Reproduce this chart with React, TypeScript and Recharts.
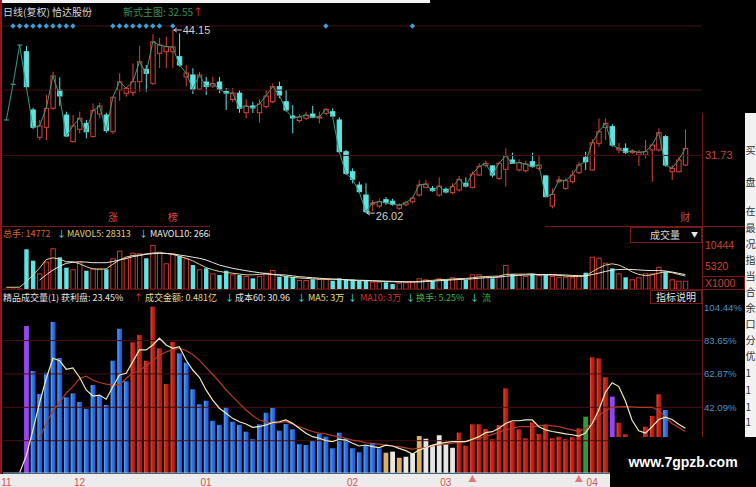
import React from "react";
import {
  ComposedChart,
  Bar,
  Line,
  XAxis,
  YAxis,
  ReferenceLine,
  ReferenceDot,
} from "recharts";

// daily candles, 103 trading days (Nov -> Apr)
const OPEN = [
  35.24, 38.77, 42.66, 42.0, 36.23, 33.53, 34.52, 36.4, 38.21, 35.73,
  33.09, 34.32, 34.91, 33.59, 35.83, 35.73, 34.08, 38.21, 37.88, 37.94,
  39.03, 40.26, 38.87, 41.84, 42.0, 42.0, 41.51, 39.5, 39.7, 38.3,
  39.0, 38.6, 39.0, 38.06, 37.27, 37.9, 35.96, 36.63, 35.96, 36.56,
  37.05, 38.54, 37.05, 35.63, 35.19, 35.41, 35.83, 35.44, 35.9, 36.06,
  35.24, 32.1, 30.12, 28.8, 27.81, 26.92, 26.72, 27.35, 27.2, 26.5,
  26.85, 27.15, 27.81, 28.57, 28.47, 27.81, 28.38, 28.05, 28.31, 28.97,
  28.57, 29.79, 30.75, 30.69, 29.46, 30.36, 31.28, 30.29, 30.22, 31.11,
  30.45, 29.7, 26.72, 29.13, 28.47, 29.13, 30.03, 31.54, 30.29, 32.93,
  34.51, 34.58, 32.27, 32.43, 32.04, 31.77, 31.77, 32.27, 32.27, 33.59,
  30.12, 30.12, 30.78,
];
const HIGH = [
  35.24, 38.77, 42.66, 42.57, 36.43, 35.24, 37.71, 40.02, 39.47, 36.06,
  35.73, 36.06, 35.24, 36.89, 36.95, 35.96, 37.55, 39.86, 38.54, 40.85,
  42.57, 40.68, 43.72, 43.36, 43.5, 44.15, 43.82, 40.68, 40.36, 40.0,
  39.5, 39.5, 39.5, 38.4, 38.4, 38.2, 37.29, 37.05, 37.29, 38.21,
  38.87, 39.03, 38.21, 36.72, 35.83, 36.06, 36.63, 36.06, 36.4, 36.4,
  35.51, 32.27, 30.46, 29.13, 28.97, 27.32, 27.48, 27.6, 27.45, 27.0,
  27.2, 27.65, 29.3, 29.3, 28.7, 29.56, 28.57, 28.97, 29.7, 29.56,
  30.12, 30.95, 31.21, 30.78, 31.11, 32.43, 32.0, 31.35, 31.21, 32.0,
  31.77, 29.79, 28.47, 29.7, 29.46, 30.22, 31.11, 32.1, 33.33, 35.4,
  35.4, 34.84, 32.98, 32.93, 32.34, 32.27, 33.26, 32.93, 34.42, 33.75,
  30.78, 31.61, 34.32,
];
const LOW = [
  35.24, 38.77, 42.66, 38.4, 34.35, 33.26, 33.26, 36.23, 36.63, 33.59,
  33.0, 33.92, 33.43, 33.53, 35.41, 33.98, 33.85, 37.15, 37.55, 37.62,
  38.04, 38.04, 38.7, 40.39, 40.36, 40.39, 40.52, 38.6, 37.8, 38.2,
  37.7, 38.4, 37.9, 36.23, 37.0, 35.96, 35.41, 35.93, 34.97, 36.4,
  36.89, 37.39, 36.06, 33.92, 34.97, 35.24, 35.41, 34.91, 35.73, 35.51,
  31.94, 29.79, 28.97, 27.98, 26.02, 26.2, 26.49, 26.85, 26.75, 26.35,
  26.7, 27.0, 27.65, 28.47, 28.14, 27.65, 27.98, 27.91, 28.14, 28.57,
  28.47, 29.7, 30.55, 29.56, 29.3, 28.64, 30.88, 30.12, 30.03, 30.52,
  30.22, 27.58, 26.49, 28.97, 28.31, 28.97, 29.89, 30.29, 30.22, 32.6,
  33.26, 32.6, 31.94, 31.87, 31.87, 30.69, 31.44, 29.13, 32.1, 30.62,
  29.3, 30.03, 30.69,
];
const CLOSE = [
  35.24, 38.77, 42.66, 38.54, 34.52, 34.65, 36.4, 39.6, 37.62, 33.65,
  34.65, 35.41, 34.08, 36.16, 36.63, 34.18, 37.49, 39.03, 38.38, 39.03,
  41.01, 39.86, 42.99, 42.66, 42.5, 42.47, 40.68, 39.9, 38.3, 39.7,
  38.56, 38.85, 38.3, 37.9, 37.9, 36.4, 36.63, 36.43, 36.82, 37.62,
  38.54, 37.71, 36.23, 35.44, 35.54, 35.73, 35.51, 35.54, 36.3, 35.63,
  32.1, 29.96, 29.37, 28.14, 26.16, 27.02, 27.15, 27.05, 26.9, 26.8,
  27.05, 27.5, 28.8, 28.9, 28.24, 28.7, 28.11, 28.64, 29.37, 28.7,
  29.89, 30.62, 30.95, 29.79, 30.95, 31.68, 30.95, 31.02, 30.88, 30.62,
  30.78, 27.65, 27.88, 29.3, 29.23, 29.79, 30.78, 31.11, 32.98, 34.08,
  34.91, 32.76, 32.43, 32.04, 32.17, 32.04, 32.1, 32.76, 33.99, 30.78,
  30.45, 31.28, 32.43,
];

// volume (x1000) and its averages
const VOLUME = [
  120, 150, 180, 9420, 6730, 3750, 6490, 9660, 7530, 5080,
  4700, 6350, 4370, 4930, 4930, 4700, 7300, 9090, 7300, 8620,
  8480, 7300, 10440, 8850, 6120, 8480, 7840, 7300, 5710, 4700,
  4930, 3750, 3350, 4370, 3520, 3350, 3120, 2570, 3120, 3900,
  4530, 2950, 3120, 2880, 2170, 2170, 2340, 2400, 2400, 2000,
  2570, 2400, 2290, 1940, 2170, 1770, 1770, 1630, 1230, 1530,
  1630, 1770, 2570, 2340, 1940, 2570, 2170, 2810, 2570, 2170,
  3520, 3520, 2950, 2570, 3120, 5710, 3590, 3350, 3120, 3590,
  3350, 3520, 3120, 2950, 2950, 2810, 3120, 3900, 7670, 7440,
  6260, 4930, 3750, 2810, 2340, 2810, 3750, 3750, 5310, 4130,
  2340, 2000, 2000,
];
const MAVOL5 = [
  450, 450, 480, 1770, 3350, 5000, 7000, 7400, 7100, 6500,
  6490, 6000, 5310, 4800, 4700, 4800, 5900, 6900, 7600, 7950,
  8080, 8350, 8550, 8600, 8480, 8200, 7800, 7300, 6700, 5900,
  5100, 4600, 4200, 3950, 3780, 3580, 3400, 3380, 3500, 3590,
  3450, 3300, 2980, 2780, 2650, 2560, 2450, 2380, 2340, 2340,
  2300, 2180, 2050, 2000, 2000, 1950, 1900, 1800, 1750, 1700,
  1680, 1700, 1850, 2000, 2100, 2250, 2300, 2400, 2500, 2550,
  2700, 2900, 3000, 3050, 3100, 3500, 3550, 3550, 3550, 3650,
  3400, 3350, 3350, 3250, 3100, 3000, 2950, 3150, 4100, 5000,
  5700, 6000, 5700, 5000, 4100, 3500, 3200, 3400, 3800, 4100,
  3900, 3500, 3100,
];
const MAVOL10 = [
  null, null, null, null, null, 2170, 3400, 4530, 5400, 6110,
  6350, 6490, 6400, 6260, 6260, 6260, 6550, 6890, 7250, 7670,
  7950, 8240, 8380, 8480, 8420, 8310, 8080, 7840, 7570, 7300,
  6900, 6300, 5710, 5300, 4930, 4650, 4370, 4130, 3900, 3700,
  3520, 3430, 3350, 3150, 2950, 2830, 2720, 2600, 2480, 2410,
  2340, 2250, 2170, 2120, 2080, 2010, 1940, 1900, 1860, 1810,
  1770, 1730, 1700, 1800, 1900, 2000, 2100, 2200, 2300, 2350,
  2450, 2600, 2700, 2750, 2850, 3050, 3200, 3300, 3350, 3400,
  3450, 3450, 3450, 3400, 3350, 3250, 3200, 3150, 3450, 3800,
  4200, 4500, 4650, 4700, 4650, 4550, 4450, 4400, 4400, 4300,
  4050, 3750, 3450,
];

// 精品成交量 indicator (%) with its two averages
const FLOW = [
  null, null, null, 92.7, 64.7, 50.4, 63.6, 95.2, 72.8, 48.3,
  50.8, 45.4, 41.2, 56, 49.1, 43.5, 71.1, 91, 58.3, 82.6,
  87.1, 71.1, 104.7, 78.8, 56.6, 82.9, 75.7, 69.9, 53.3, 44,
  46.2, 33.7, 31.1, 42.1, 33.1, 31.1, 26.9, 22.2, 31.5, 38.7,
  41.8, 27.5, 31.7, 28.4, 19.1, 18.6, 21.1, 25.5, 23.8, 16.6,
  26.3, 22.8, 16.6, 14.1, 18.6, 20, 16.5, 13.8, 14.5, 10.7,
  11.3, 13.4, 24.2, 22.5, 18.6, 24.7, 19, 16.9, 26.3, 18.2,
  31.5, 31.5, 28.6, 22.2, 31.1, 53.9, 33.1, 28.4, 22.8, 32.7,
  25.5, 31.1, 22.8, 23.8, 22.2, 23.4, 29, 36.2, 73.2, 72.6,
  60.8, 48.7, 32.5, 25.3, 20, 21, 30, 36.7, 50.2, 40.4,
  19, 16, 16,
];
// P purple, B blue, R red, Y tan, W white, G green
const FLOW_KIND = [
  "---P",
  "BBBBBBBBBBBBBBB",
  "RRRRRRR",
  "BBBBBBBBBBBBBBBBBBBBBBBBBBBBBBB",
  "YWYWWYWWWWW",
  "RRRRRRRRRRRRRRRRRRR",
  "G",
  "RRR",
  "P",
  "RRRRRRR",
  "B",
  "RRR",
].join("");
const FLOW_MA5 = [
  null, null, 1.4, 12, 28, 45, 60, 72.6, 71.1, 65.8,
  66.6, 60.8, 52.9, 49.1, 49.7, 47.1, 54.9, 62.2, 63.3, 70.5,
  77.8, 77.8, 80.9, 85.1, 80.9, 78.8, 79.8, 71.5, 65.3, 60.8,
  52.9, 46.6, 41.5, 38.4, 35.2, 33.1, 31.7, 29.6, 30, 31.1,
  32.5, 33.1, 34.2, 32.1, 29, 25.9, 23.8, 22.8, 21.3, 20.7,
  22.2, 21.7, 19.7, 18, 18.6, 17.6, 17, 18.5, 18, 16.5,
  15.1, 13, 15.5, 16.8, 18.5, 19.5, 20.3, 20.7, 20.7, 20.7,
  22.2, 23.8, 26.3, 26.9, 29, 32, 33.7, 33.7, 34.2, 34.2,
  30, 28, 27, 26.3, 25.5, 25, 24.2, 26, 32, 40.4,
  51.5, 57.4, 55, 46, 34, 27.5, 26, 30, 34.5, 36,
  34.5, 31.5, 29,
];
const FLOW_MA10 = [
  null, null, null, null, null, 23, 32, 40, 45, 51,
  55, 60, 61.5, 59, 57.5, 56.5, 56, 56, 60, 63.5,
  65, 68, 71, 74.5, 76.5, 78, 78.8, 77.5, 75, 71.5,
  67, 62.5, 58, 53, 48.7, 44.5, 40.4, 37, 34.2, 33,
  32.1, 32.5, 33.1, 31.5, 30, 28.5, 27, 26, 25.5, 24.5,
  23.8, 22.8, 21.7, 21, 20, 19.5, 19.2, 18.5, 18, 17.6,
  16.8, 16, 16.5, 17.2, 18, 18.6, 19.2, 19.7, 20.2, 20.7,
  21.8, 22.8, 23.8, 25.2, 26.6, 28, 29, 30, 30, 30,
  30.5, 31.1, 30.5, 30, 29, 28, 27, 29, 32, 37,
  40, 42, 42.3, 42.5, 42.3, 42.1, 42.1, 42.1, 40, 36,
  32, 29.5, 27,
];

const SIGNAL_DAYS = [1, 2, 3, 4, 5, 6, 7, 8, 9, 10, 16, 17, 18, 19, 20, 21, 22, 23, 25, 48, 61];
const SIGNAL_LEVEL = 44.55;
const EVENT_DAYS = [16, 25, 102];
const EVENT_TEXT = ["涨", "榜", "财"];
const EVENT_LEVEL = 25.6;
const MONTH_DAYS = [0, 11, 30, 52, 66, 88];
const MONTH_LABELS = ["11", "12", "01", "02", "03", "04"];
const TRIANGLE_DAYS = [70, 86];
const PRICE_TICKS = [31.73];
const VOLUME_TICKS = [5320, 10444];
const FLOW_TICKS = [21.3, 42.09, 62.87, 83.65, 104.44];
const SLOTS = 105;

const rows = Array.from({ length: SLOTS }, (_, i) => ({
  i,
  o: OPEN[i] ?? null,
  h: HIGH[i] ?? null,
  l: LOW[i] ?? null,
  c: CLOSE[i] ?? null,
  v: VOLUME[i] ?? null,
  mv5: MAVOL5[i] ?? null,
  mv10: MAVOL10[i] ?? null,
  f: FLOW[i] ?? null,
  k: FLOW_KIND[i] ?? "-",
  f5: FLOW_MA5[i] ?? null,
  f10: FLOW_MA10[i] ?? null,
  sig: SIGNAL_DAYS.includes(i) ? SIGNAL_LEVEL : null,
}));

const CJK = "'Noto Sans CJK SC', 'Noto Sans', sans-serif";
const LAT = "'Liberation Sans', Arial, sans-serif";
const RED = "#d8433b";
const CYAN = "#5fe3e3";
const GRID = "#4a1010";
const FRAME = "#7a1818";
const W = 756;
const AXIS_W = 54;

function Candle(props: any) {
  const { x, y, width, height, payload } = props;
  if (!payload || payload.h == null) return null;
  const top = Math.min(y, y + height);
  const span = Math.abs(height);
  const range = payload.h - payload.l;
  const cx = x + width / 2;
  const bw = 4.4;
  if (range <= 0) {
    return <line x1={cx - 2.5} x2={cx + 2.5} y1={top} y2={top} stroke="#3b9a7c" strokeWidth={1.2} />;
  }
  const py = (v: number) => top + ((payload.h - v) / range) * span;
  const up = payload.c >= payload.o;
  const col = up ? RED : CYAN;
  const yo = py(payload.o);
  const yc = py(payload.c);
  const bt = Math.min(yo, yc);
  const bh = Math.max(Math.abs(yo - yc), 1);
  return (
    <g>
      <line x1={cx} x2={cx} y1={top} y2={bt} stroke={col} strokeWidth={1} />
      <line x1={cx} x2={cx} y1={bt + bh} y2={top + span} stroke={col} strokeWidth={1} />
      <rect
        x={cx - bw / 2}
        y={bt}
        width={bw}
        height={bh}
        fill={up ? "#000" : col}
        stroke={col}
        strokeWidth={1}
      />
    </g>
  );
}

function VolBar(props: any) {
  const { x, y, width, height, payload } = props;
  if (!payload || payload.v == null) return null;
  const cx = x + width / 2;
  const bw = 4.4;
  const up = payload.c >= payload.o;
  const top = Math.min(y, y + height);
  const h = Math.max(Math.abs(height), 0.5);
  return up ? (
    <rect x={cx - bw / 2} y={top + 0.5} width={bw} height={h - 0.5} fill="none" stroke="#c8362f" strokeWidth={1} />
  ) : (
    <rect x={cx - bw / 2} y={top} width={bw} height={h} fill={CYAN} />
  );
}

const KIND_FILL: Record<string, string> = {
  B: "url(#gBlue)",
  R: "url(#gRed)",
  P: "#9646ee",
  Y: "#d9b066",
  W: "#e6e6e6",
  G: "#2e9a3a",
};

function FlowBar(props: any) {
  const { x, y, width, height, payload } = props;
  if (!payload || payload.f == null) return null;
  const cx = x + width / 2;
  const bw = 4.8;
  const top = Math.min(y, y + height);
  return (
    <rect x={cx - bw / 2} y={top} width={bw} height={Math.abs(height)} fill={KIND_FILL[payload.k] || "#888"} />
  );
}

function Diamond(p: any) {
  if (p.value == null || p.cy == null) return <g key={p.index} />;
  const { cx, cy } = p;
  return (
    <polygon
      key={p.index}
      points={`${cx},${cy - 2.7} ${cx + 2.7},${cy} ${cx},${cy + 2.7} ${cx - 2.7},${cy}`}
      fill="#3c9fd8"
    />
  );
}

const rightTick = (color: string, fmt: (v: number) => string, size = 11) => (p: any) => (
  <text x={p.x} y={p.y} dy="0.35em" fill={color} fontSize={size} fontFamily={LAT} textAnchor="start">
    {fmt(p.payload.value)}
  </text>
);

function priceMark(textDy: number) {
  return (p: any) => (
    <g>
      <line x1={p.cx + 1} x2={p.cx + 9} y1={p.cy} y2={p.cy} stroke="#cfcfcf" strokeWidth={1} />
      <polyline
        points={`${p.cx + 4},${p.cy - 2} ${p.cx + 1},${p.cy} ${p.cx + 4},${p.cy + 2}`}
        fill="none"
        stroke="#cfcfcf"
        strokeWidth={1}
      />
      <text x={p.cx + 10} y={p.cy + textDy} dy="0.35em" fill="#cfcfcf" fontSize={11} fontFamily={LAT}>
        {p.label}
      </text>
    </g>
  );
}

function PriceChart() {
  return (
    <ComposedChart
      width={W}
      height={226}
      data={rows}
      margin={{ top: 18, right: 0, bottom: 2, left: 3 }}
      barCategoryGap={0}
    >
      <XAxis dataKey="i" hide />
      <YAxis
        orientation="right"
        width={AXIS_W}
        domain={[24.942, 45.338]}
        ticks={PRICE_TICKS}
        interval={0}
        tickSize={0}
        tickMargin={3}
        axisLine={false}
        tickLine={false}
        tick={rightTick("#c8413a", (v) => v.toFixed(2))}
      />
      <ReferenceLine y={SIGNAL_LEVEL} stroke={GRID} />
      <ReferenceLine y={38.2} stroke={GRID} />
      <ReferenceLine y={31.73} stroke={GRID} />
      <Line dataKey="c" stroke="#3b9a7c" strokeWidth={1} dot={false} isAnimationActive={false} />
      <Bar
        dataKey={(d: any) => (d.h == null ? null : [d.l, d.h])}
        shape={<Candle />}
        isAnimationActive={false}
      />
      <Line dataKey="sig" stroke="none" dot={Diamond} activeDot={false} isAnimationActive={false} />
      <ReferenceDot
        x={25}
        y={44.15}
        r={0}
        ifOverflow="visible"
        shape={(p: any) => priceMark(0)({ ...p, label: "44.15" })}
      />
      <ReferenceDot
        x={54}
        y={26.02}
        r={0}
        ifOverflow="visible"
        shape={(p: any) => priceMark(3)({ ...p, label: "26.02" })}
      />
      {EVENT_DAYS.map((d, n) => (
        <ReferenceDot
          key={d}
          x={d}
          y={EVENT_LEVEL}
          r={0}
          ifOverflow="visible"
          shape={(p: any) => (
            <text x={p.cx} y={p.cy} dy="0.35em" textAnchor="middle" fill="#d04a4a" fontSize={10} fontFamily={CJK}>
              {EVENT_TEXT[n]}
            </text>
          )}
        />
      ))}
    </ComposedChart>
  );
}

function VolumeChart() {
  return (
    <ComposedChart
      width={W}
      height={63}
      data={rows}
      margin={{ top: 17, right: 0, bottom: 0.8, left: 3 }}
      barCategoryGap={0}
    >
      <XAxis dataKey="i" hide />
      <YAxis
        orientation="right"
        width={AXIS_W}
        domain={[0, 10673]}
        ticks={VOLUME_TICKS}
        interval={0}
        tickSize={0}
        tickMargin={3}
        axisLine={false}
        tickLine={false}
        tick={rightTick("#c8413a", (v) => String(v), 10.5)}
      />
      <Bar dataKey="v" shape={<VolBar />} isAnimationActive={false} />
      <Line dataKey="mv5" stroke="#e4d38c" strokeWidth={1} dot={false} isAnimationActive={false} />
      <Line dataKey="mv10" stroke="#e8e8e8" strokeWidth={1} dot={false} isAnimationActive={false} />
    </ComposedChart>
  );
}

function FlowChart() {
  return (
    <ComposedChart
      width={W}
      height={197}
      data={rows}
      margin={{ top: 10, right: 0, bottom: 0, left: 3 }}
      barCategoryGap={0}
    >
      <defs>
        <linearGradient id="gBlue" x1="0" y1="0" x2="1" y2="0">
          <stop offset="0%" stopColor="#6aa8ff" />
          <stop offset="35%" stopColor="#2f7cf0" />
          <stop offset="100%" stopColor="#1a56c8" />
        </linearGradient>
        <linearGradient id="gRed" x1="0" y1="0" x2="1" y2="0">
          <stop offset="0%" stopColor="#e8503e" />
          <stop offset="35%" stopColor="#cc2418" />
          <stop offset="100%" stopColor="#a01810" />
        </linearGradient>
      </defs>
      <XAxis
        dataKey="i"
        height={14}
        interval={0}
        axisLine={{ stroke: "#9cc4e4" }}
        tickLine={false}
        tick={(p: any) => {
          const n = MONTH_DAYS.indexOf(p.payload.value);
          if (n < 0) return <g />;
          return (
            <text x={p.x} y={p.y} dy={5} textAnchor="middle" fill="#d45454" fontSize={10} fontFamily={LAT}>
              {MONTH_LABELS[n]}
            </text>
          );
        }}
      />
      <YAxis
        orientation="right"
        width={AXIS_W}
        domain={[1.18, 108.9]}
        ticks={FLOW_TICKS}
        interval={0}
        tickSize={0}
        tickMargin={2}
        axisLine={false}
        tickLine={false}
        tick={rightTick("#4f93c8", (v) => v.toFixed(2) + "%", 9.6)}
      />
      {FLOW_TICKS.slice(0, 4).map((t) => (
        <ReferenceLine key={t} y={t} stroke={GRID} />
      ))}
      <Bar dataKey="f" shape={<FlowBar />} isAnimationActive={false} />
      <Line dataKey="f10" stroke="#b43a28" strokeWidth={1.2} dot={false} isAnimationActive={false} />
      <Line dataKey="f5" stroke="#f2eab4" strokeWidth={1.2} dot={false} isAnimationActive={false} />
      {TRIANGLE_DAYS.map((d) => (
        <ReferenceDot
          key={d}
          x={d}
          y={1.18}
          r={0}
          ifOverflow="visible"
          shape={(p: any) => (
            <polygon
              points={`${p.cx},${p.cy + 2} ${p.cx + 4},${p.cy + 9} ${p.cx - 4},${p.cy + 9}`}
              fill="#e07a7a"
            />
          )}
        />
      ))}
    </ComposedChart>
  );
}

function T({ x, y, c, s = 9, children }: any) {
  return (
    <span
      style={{
        position: "absolute",
        left: x,
        top: y - (s + 2) / 2,
        fontSize: s,
        lineHeight: `${s + 2}px`,
        color: c,
        whiteSpace: "nowrap",
        fontFamily: CJK,
      }}
    >
      {children}
    </span>
  );
}

const box = (l: number, t: number, w: number, h: number, extra: any = {}) => ({
  position: "absolute" as const,
  left: l,
  top: t,
  width: w,
  height: h,
  ...extra,
});

const SIDE_CHARS = ["买", "盘", "在", "最", "况", "指", "当", "合", "余", "口", "分", "优", "1", "1", "1", "1"];
const SIDE_Y = [150, 182, 211, 228, 244, 260, 276, 292, 308, 324, 340, 356, 373, 390, 407, 422];

export default function App() {
  return (
    <div style={box(0, 0, W, 487, { background: "#000", overflow: "hidden", fontFamily: CJK })}>
      <div style={box(0, 474, W, 13, { background: "#ececec" })} />
      <div style={box(0, 0, W, 226)}>
        <PriceChart />
      </div>
      <div style={box(0, 227, W, 63)}>
        <VolumeChart />
      </div>
      <div style={box(0, 290, W, 197)}>
        <FlowChart />
      </div>

      {/* frame lines */}
      <div style={box(0, 0, 430, 3, { background: "#f2f2f2" })} />
      <div style={box(0, 0, 2, 474, { background: "#9a1616" })} />
      <div style={box(0, 226, 745, 1, { background: FRAME })} />
      <div style={box(0, 289, 745, 1, { background: "#5a1212" })} />
      <div style={box(702, 113, 1, 361, { background: FRAME })} />

      {/* headers */}
      <T x={3} y={12} c="#d8d8d8" s={10}>日线(复权) 恰达股份</T>
      <T x={123} y={12} c="#3f8f5a" s={10}>新式主图: 32.55</T>
      <T x={193} y={12} c="#e03a3a" s={10}>↑</T>

      <T x={3} y={233} c="#d8603c">总手: 14772</T>
      <T x={57} y={233} c={CYAN}>↓</T>
      <T x={67} y={233} c="#e0d27a">MAVOL5: 28313</T>
      <T x={139} y={233} c={CYAN}>↓</T>
      <T x={150} y={233} c="#e8e8e8">MAVOL10: 26685</T>
      <div style={box(210, 221, 335, 21, { background: "#000" })} />

      <T x={3} y={297} c="#e2e2e2">精品成交量(1) 获利盘: 23.45%</T>
      <T x={134} y={297} c="#e03a3a">↑</T>
      <T x={145} y={297} c="#e8d890">成交金额: 0.481亿</T>
      <T x={225} y={297} c={CYAN}>↓</T>
      <T x={235} y={297} c="#e2e2e2">成本60: 30.96</T>
      <T x={297} y={297} c={CYAN}>↓</T>
      <T x={308} y={297} c="#e8e070">MA5: 3万</T>
      <T x={348} y={297} c={CYAN}>↓</T>
      <T x={360} y={297} c="#d43030">MA10: 3万</T>
      <T x={406} y={297} c={CYAN}>↓</T>
      <T x={416} y={297} c="#3cb050">换手: 5.25%</T>
      <T x={470} y={297} c={CYAN}>↓</T>
      <T x={482} y={297} c="#3cb050">流</T>

      {/* boxes on the right */}
      <div style={box(630, 227, 72, 16, { border: `1px solid ${FRAME}`, boxSizing: "border-box" })} />
      <T x={650} y={235} c="#d6d6d6" s={10}>成交量</T>
      <T x={691} y={234} c="#e8e8e8" s={7}>▼</T>
      <div style={box(650, 290, 52, 14, { border: `1px solid ${FRAME}`, boxSizing: "border-box" })} />
      <T x={656} y={297} c="#e2e2e2" s={10}>指标说明</T>
      <div style={box(702, 276, 43, 14, { border: `1px solid ${FRAME}`, boxSizing: "border-box" })} />
      <span style={{ position: "absolute", left: 705, top: 277, fontSize: 10.5, lineHeight: "12px", color: "#c8413a", fontFamily: LAT }}>
        X1000
      </span>

      {/* side panel strip */}
      <div style={box(745, 113, 11, 374, { background: "#f2f2f2", overflow: "hidden" })}>
        {SIDE_CHARS.map((ch, n) => (
          <span
            key={n}
            style={{
              position: "absolute",
              left: 0.5,
              top: SIDE_Y[n] - 113 - 6,
              fontSize: 10,
              lineHeight: "12px",
              color: "#333",
              fontFamily: CJK,
            }}
          >
            {ch}
          </span>
        ))}
      </div>

      {/* watermark */}
      <div
        style={box(610, 437, 146, 50, {
          background: "#000",
          color: "#fff",
          fontFamily: LAT,
          fontWeight: "bold",
          fontSize: 14,
          display: "flex",
          alignItems: "center",
          justifyContent: "center",
        })}
      >
        www.7gpzb.com
      </div>
    </div>
  );
}
